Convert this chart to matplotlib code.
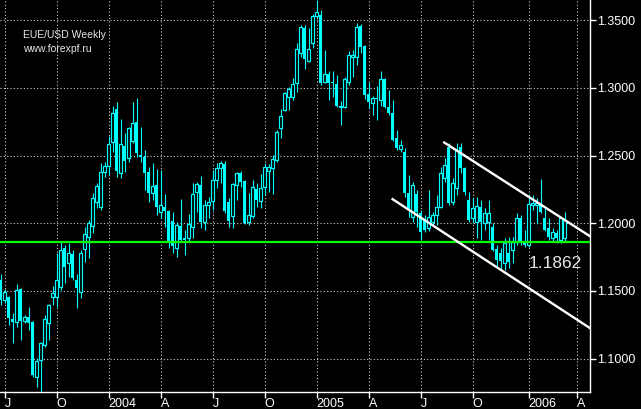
import matplotlib
matplotlib.use("Agg")
import matplotlib.pyplot as plt
import numpy as np

plt.rcParams['font.family'] = ['Liberation Sans', 'DejaVu Sans']

# weekly EUR/USD candles, Jun 2003 - Mar 2006
opens = [1.1581, 1.1433, 1.1455, 1.1293, 1.1270, 1.1514, 1.1278, 1.1307, 1.1270, 1.0864,
         1.0990, 1.1100, 1.1263, 1.1455, 1.1455, 1.1529, 1.1817, 1.1707, 1.1773, 1.1581,
         1.1492, 1.1810, 1.1899, 1.1980, 1.2157, 1.2120, 1.2379, 1.2423, 1.2601, 1.2844,
         1.2372, 1.2571, 1.2482, 1.2608, 1.2748, 1.2504, 1.2490, 1.2379, 1.2224, 1.2283,
         1.2083, 1.2120, 1.2091, 1.2017, 1.1817, 1.1980, 1.1891, 1.1891, 1.1972, 1.2231,
         1.2283, 1.2009, 1.2135, 1.2165, 1.2320, 1.2408, 1.2438, 1.2157, 1.2054, 1.2283,
         1.2372, 1.2312, 1.2009, 1.2054, 1.2253, 1.2165, 1.2268, 1.2386, 1.2408, 1.2468,
         1.2704, 1.2837, 1.2933, 1.2933, 1.3037, 1.3258, 1.3443, 1.3199, 1.3332, 1.3532,
         1.3539, 1.3044, 1.3103, 1.3044, 1.3029, 1.2859, 1.2859, 1.3044, 1.3229, 1.3229,
         1.3458, 1.3310, 1.2955, 1.2889, 1.2926, 1.2911, 1.3066, 1.2859, 1.2815, 1.2630,
         1.2549, 1.2527, 1.2224, 1.2046, 1.2216, 1.2076, 1.2032, 1.1965, 1.2009, 1.2061,
         1.2120, 1.2334, 1.2563, 1.2157, 1.2261, 1.2563, 1.2408, 1.2172, 1.2039, 1.2009,
         1.2120, 1.2002, 1.2009, 1.1972, 1.1810, 1.1780, 1.1707, 1.1780, 1.1802, 1.1861,
         1.2039, 1.1854, 1.1839, 1.2135, 1.2135, 1.2135, 1.2039, 1.1965, 1.1891, 1.1928,
         1.1877, 1.1891]
highs = [1.1625, 1.1514, 1.1463, 1.1337, 1.1551, 1.1522, 1.1322, 1.1381, 1.1278, 1.1004,
         1.1123, 1.1322, 1.1404, 1.1536, 1.1780, 1.1861, 1.1839, 1.1854, 1.1802, 1.1625,
         1.1802, 1.1972, 1.2024, 1.2224, 1.2297, 1.2445, 1.2453, 1.2645, 1.2867, 1.2896,
         1.2771, 1.2668, 1.2712, 1.2896, 1.2926, 1.2712, 1.2541, 1.2416, 1.2445, 1.2401,
         1.2394, 1.2216, 1.2098, 1.2083, 1.2009, 1.2179, 1.1950, 1.2068, 1.2297, 1.2305,
         1.2349, 1.2172, 1.2194, 1.2394, 1.2445, 1.2460, 1.2460, 1.2187, 1.2297, 1.2379,
         1.2386, 1.2320, 1.2224, 1.2320, 1.2297, 1.2364, 1.2445, 1.2438, 1.2504, 1.2689,
         1.2844, 1.2970, 1.3007, 1.3074, 1.3332, 1.3465, 1.3465, 1.3443, 1.3547, 1.3650,
         1.3576, 1.3281, 1.3125, 1.3125, 1.3096, 1.2904, 1.3081, 1.3273, 1.3281, 1.3480,
         1.3473, 1.3317, 1.3044, 1.2941, 1.3014, 1.3125, 1.3074, 1.2985, 1.2911, 1.2689,
         1.2616, 1.2556, 1.2357, 1.2305, 1.2246, 1.2098, 1.2061, 1.2246, 1.2083, 1.2209,
         1.2416, 1.2482, 1.2593, 1.2334, 1.2593, 1.2593, 1.2416, 1.2231, 1.2187, 1.2194,
         1.2172, 1.2113, 1.2172, 1.2002, 1.1839, 1.1817, 1.1891, 1.1899, 1.1899, 1.2076,
         1.2061, 1.1950, 1.2209, 1.2209, 1.2187, 1.2327, 1.2120, 1.2039, 1.1965, 1.1950,
         1.2046, 1.2083]
lows = [1.1396, 1.1411, 1.1248, 1.1115, 1.1233, 1.1137, 1.1263, 1.1211, 1.0864, 1.0790,
        1.0753, 1.1085, 1.1137, 1.1396, 1.1381, 1.1507, 1.1559, 1.1603, 1.1581, 1.1374,
        1.1448, 1.1714, 1.1743, 1.1928, 1.2113, 1.2098, 1.2342, 1.2357, 1.2527, 1.2342,
        1.2334, 1.2379, 1.2453, 1.2593, 1.2490, 1.2453, 1.2246, 1.2157, 1.2172, 1.2061,
        1.2039, 1.1972, 1.1817, 1.1780, 1.1751, 1.1861, 1.1766, 1.1861, 1.1891, 1.2083,
        1.1965, 1.1950, 1.2039, 1.2098, 1.2261, 1.2297, 1.2076, 1.1972, 1.1965, 1.2172,
        1.2268, 1.1994, 1.1987, 1.2039, 1.2120, 1.2113, 1.2209, 1.2231, 1.2216, 1.2453,
        1.2630, 1.2830, 1.2837, 1.2911, 1.2970, 1.3229, 1.3140, 1.3192, 1.3295, 1.3517,
        1.3022, 1.3037, 1.2911, 1.2933, 1.2859, 1.2726, 1.2852, 1.3022, 1.3081, 1.3170,
        1.3258, 1.2918, 1.2852, 1.2800, 1.2763, 1.2867, 1.2852, 1.2800, 1.2608, 1.2541,
        1.2527, 1.2194, 1.2046, 1.2009, 1.1972, 1.1877, 1.1935, 1.1943, 1.1987, 1.1987,
        1.2113, 1.2305, 1.2135, 1.2135, 1.2209, 1.2372, 1.2209, 1.2009, 1.2002, 1.1891,
        1.1877, 1.1950, 1.1877, 1.1795, 1.1670, 1.1655, 1.1655, 1.1670, 1.1707, 1.1839,
        1.1839, 1.1825, 1.1825, 1.2098, 1.2002, 1.2076, 1.1943, 1.1877, 1.1861, 1.1854,
        1.1854, 1.1869]
closes = [1.1433, 1.1492, 1.1300, 1.1270, 1.1507, 1.1278, 1.1307, 1.1263, 1.0879, 1.0982,
          1.1115, 1.1293, 1.1396, 1.1485, 1.1581, 1.1802, 1.1677, 1.1780, 1.1596, 1.1522,
          1.1780, 1.1921, 1.2002, 1.2187, 1.2275, 1.2379, 1.2423, 1.2586, 1.2815, 1.2386,
          1.2586, 1.2460, 1.2704, 1.2741, 1.2519, 1.2490, 1.2372, 1.2224, 1.2275, 1.2120,
          1.2135, 1.2091, 1.1869, 1.1832, 1.1987, 1.1877, 1.1877, 1.1994, 1.2216, 1.2290,
          1.2009, 1.2135, 1.2157, 1.2320, 1.2408, 1.2445, 1.2091, 1.2017, 1.2290, 1.2372,
          1.2305, 1.2002, 1.2061, 1.2268, 1.2172, 1.2261, 1.2416, 1.2416, 1.2475, 1.2675,
          1.2793, 1.2963, 1.2992, 1.3029, 1.3288, 1.3450, 1.3214, 1.3288, 1.3532, 1.3561,
          1.3037, 1.3103, 1.3037, 1.3037, 1.2867, 1.2867, 1.3066, 1.3244, 1.3244, 1.3450,
          1.3303, 1.2948, 1.2896, 1.2926, 1.2918, 1.3066, 1.2859, 1.2815, 1.2616, 1.2556,
          1.2578, 1.2224, 1.2113, 1.2283, 1.2083, 1.1935, 1.1950, 1.2046, 1.2061, 1.2120,
          1.2372, 1.2431, 1.2150, 1.2297, 1.2541, 1.2408, 1.2231, 1.2024, 1.2113, 1.2128,
          1.2009, 1.2076, 1.2076, 1.1802, 1.1729, 1.1721, 1.1854, 1.1714, 1.1861, 1.2039,
          1.1854, 1.1839, 1.2142, 1.2150, 1.2150, 1.2083, 1.1950, 1.1899, 1.1935, 1.1891,
          1.2039, 1.2024]

month_pos = [1, 14, 27, 40, 53, 66, 79, 92, 105, 118, 132, 144]
month_labels = ['J', 'O', '2004', 'A', 'J', 'O', '2005', 'A', 'J', 'O', '2006', 'A']
price_ticks = [1.10, 1.15, 1.20, 1.25, 1.30, 1.35]

support_level = 1.1862
channel_upper = [(110.9, 1.2597), (147.35, 1.1904)]
channel_lower = [(98.0, 1.2178), (147.35, 1.1225)]

cyan = '#00ffff'

fig = plt.figure(figsize=(6.41, 4.09), dpi=100, facecolor='black')
ax = fig.add_axes([0, 17 / 409, 590 / 641, 392 / 409])
ax.set_facecolor('black')

o = np.array(opens)
h = np.array(highs)
l = np.array(lows)
c = np.array(closes)
x = np.arange(len(o))
up = c >= o

# wicks
ax.vlines(x, l, h, color=cyan, lw=0.8, zorder=3)

# down candles: filled bodies
body_h = np.maximum(np.abs(o - c), 0.0006)
ax.bar(x[~up], body_h[~up], bottom=np.minimum(o, c)[~up], width=0.75,
       color=cyan, edgecolor=cyan, lw=0, zorder=4)
# up candles: hollow bodies
ax.bar(x[up], body_h[up], bottom=np.minimum(o, c)[up], width=0.58,
       facecolor='black', edgecolor=cyan, lw=0.85, zorder=4)

# support line and channel
ax.axhline(support_level, color='#00ff00', lw=1.6, zorder=5)
ax.plot(*zip(*channel_upper), color='white', lw=1.7, zorder=6)
ax.plot(*zip(*channel_lower), color='white', lw=1.7, zorder=6)
ax.text(132.1, 1.1670, '%.4f' % support_level, color='#e8e8e8', fontsize=12.5,
        ha='left', va='baseline', zorder=7)

ax.set_xlim(-0.15, 147.35)
ax.set_ylim(1.0753, 1.3650)

ax.set_xticks(month_pos)
ax.set_xticklabels(month_labels, ha='left')
ax.set_yticks(price_ticks)
ax.set_yticklabels(['%.4f' % p for p in price_ticks])
ax.yaxis.tick_right()
ax.tick_params(axis='x', colors='white', length=4, width=1, pad=0.5, labelsize=9)
ax.tick_params(axis='y', colors='white', length=4, width=1, pad=1, labelsize=9)

ax.grid(True, color='#d0d0d0', linestyle=(0, (1, 2)), lw=0.8, zorder=1)
for side in ['top', 'left']:
    ax.spines[side].set_visible(False)
for side in ['bottom', 'right']:
    ax.spines[side].set_color('white')
    ax.spines[side].set_linewidth(1)

fig.text(23 / 641, 1 - 38 / 409, 'EUE/USD Weekly', color='#e8e8e8', fontsize=7.5, va='baseline')
fig.text(23 / 641, 1 - 52 / 409, 'www.forexpf.ru', color='#e8e8e8', fontsize=7.5, va='baseline')

fig.savefig('out.png', dpi=100, facecolor='black')
